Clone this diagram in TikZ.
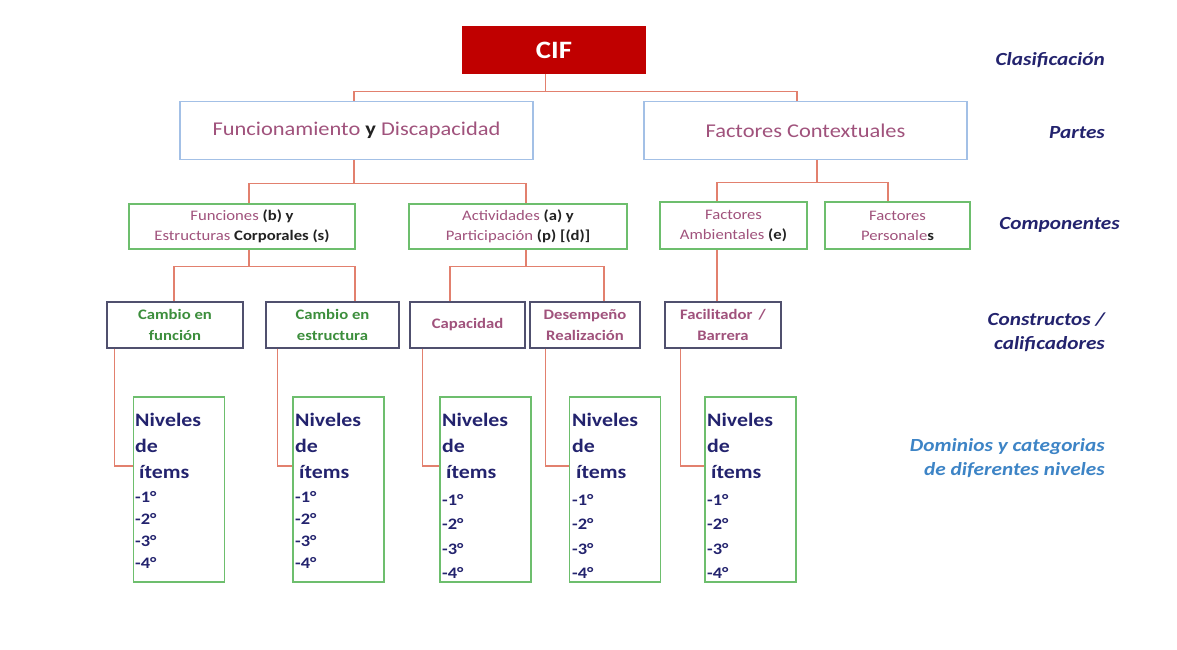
\documentclass[tikz,border=0pt]{standalone}
\usepackage{fontspec}
\setmainfont{Carlito}[FakeStretch=1.15]
\definecolor{cifred}{HTML}{C00000}
\definecolor{lineC}{HTML}{E2806E}
\definecolor{partB}{HTML}{A3C0E6}
\definecolor{compB}{HTML}{6DBE6D}
\definecolor{consB}{HTML}{50506E}
\definecolor{mauve}{HTML}{A0527C}
\definecolor{greenT}{HTML}{3C8E3C}
\definecolor{navy}{HTML}{23236E}
\definecolor{lblue}{HTML}{3D84C6}
\definecolor{darkT}{HTML}{222222}
\newcommand{\bk}[1]{\textcolor{darkT}{\textbf{#1}}}
\begin{document}
\begin{tikzpicture}[x=1pt,y=-1pt,
  conn/.style={draw=lineC, line width=1.4pt},
  box/.style={rectangle, inner sep=0pt, align=center, line width=1.4pt},
  cifbox/.style={box, fill=cifred, draw=cifred, text=white, font=\bfseries\fontsize{25}{30}\selectfont, minimum width=182pt, minimum height=46pt},
  partbox/.style={box, draw=partB, text=mauve, font=\fontsize{19.5}{24}\selectfont, minimum height=58pt},
  compbox/.style={box, draw=compB, text=mauve, font=\fontsize{14.5}{20}\selectfont},
  consbox/.style={box, draw=consB, font=\bfseries\fontsize{14.5}{21}\selectfont, minimum height=46pt},
  nivbox/.style={rectangle, draw=compB, line width=1.4pt, minimum width=91pt, minimum height=185pt, inner sep=0pt},
  niv/.style={text=navy, font=\bfseries\fontsize{19}{23}\selectfont, inner sep=0pt, anchor=base west},
  nivs/.style={niv, font=\bfseries\fontsize{16}{20}\selectfont},
  lab/.style={text=navy, font=\bfseries\itshape\fontsize{18.5}{23.5}\selectfont, inner sep=0pt, align=right}
]
\fill[white] (0,0) rectangle (1177,649);
\useasboundingbox (0,0) rectangle (1177,649);

% top
\node[cifbox] (cif) at (554,50) {CIF};
\node[partbox, minimum width=353pt] (fd) at (356.5,130.5) {Funcionamiento \bk{y} Discapacidad};
\node[partbox, minimum width=323pt] (fc) at (805.5,130.5) {Factores Contextuales};

% components
\node[compbox, minimum width=226pt, minimum height=45pt] (fun) at (242,226.5) {Funciones \bk{(b) y}\\Estructuras \bk{Corporales (s)}};
\node[compbox, minimum width=218pt, minimum height=45pt] (act) at (518,226.5) {Actividades \bk{(a) y}\\Participación \bk{(p) [(d)]}};
\node[compbox, minimum width=147pt, minimum height=47pt] (amb) at (733.5,225.5) {Factores\\Ambientales \bk{(e)}};
\node[compbox, minimum width=145pt, minimum height=47pt] (per) at (897.5,225.5) {Factores\\Personale\bk{s}};

% constructs
\node[consbox, text=greenT, minimum width=136pt] (cf) at (175,325) {Cambio en\\función};
\node[consbox, text=greenT, minimum width=133pt] (ce) at (332.5,325) {Cambio en\\estructura};
\node[consbox, text=mauve, minimum width=115pt] (cap) at (467.5,325) {Capacidad};
\node[consbox, text=mauve, minimum width=110pt] (des) at (585,325) {Desempeño\\Realización};
\node[consbox, text=mauve, minimum width=116pt] (fac) at (723,325) {Facilitador \,/\\Barrera};

% niveles boxes
\node[nivbox] (n1) at (178.7,489.5) {};
\node[nivbox] (n2) at (338.5,489.5) {};
\node[nivbox] (n3) at (485.4,489.5) {};
\node[nivbox] (n4) at (615.2,489.5) {};
\node[nivbox] (n5) at (750.4,489.5) {};

\foreach \b/\x/\sp/\st in {n1/135/22/502, n2/295/22/502, n3/442/24.5/505, n4/572/24.5/505, n5/707/24.5/505} {
  \node[niv] (\b-a) at (\x,426) {Niveles};
  \node[niv] (\b-b) at (\x,452) {de};
  \node[niv] (\b-c) at ({\x+4},478) {ítems};
  \foreach \k in {1,2,3,4} {
    \node[nivs] (\b-i\k) at (\x,{\st+(\k-1)*\sp}) {-\k°};
  }
}

% right labels
\node[lab, anchor=east] (l1) at (1105,60) {Clasificación};
\node[lab, anchor=east] (l2) at (1105,133) {Partes};
\node[lab, anchor=east] (l3) at (1120,225) {Componentes};
\node[lab, anchor=east] (l4) at (1105,332) {Constructos /\\calificadores};
\node[lab, anchor=east, text=lblue] (l5) at (1105,458) {Dominios y categorias\\de diferentes niveles};

% connectors
\draw[conn] ([xshift=-8.5pt]cif.south) -- ++(0,18) -| ([xshift=-2.5pt]fd.north);
\draw[conn] ([xshift=-8.5pt]cif.south) ++(0,18) -| ([xshift=-8.5pt]fc.north);

\draw[conn] ([xshift=-2.5pt]fd.south) -- ++(0,23) -| ([xshift=7pt]fun.north);
\draw[conn] ([xshift=-2.5pt]fd.south) ++(0,23) -| ([xshift=8pt]act.north);

\draw[conn] ([xshift=11.5pt]fc.south) -- ++(0,22) -| ([xshift=-16.5pt]amb.north);
\draw[conn] ([xshift=11.5pt]fc.south) ++(0,22) -| ([xshift=-9.5pt]per.north);

\draw[conn] ([xshift=7pt]fun.south) -- ++(0,17) -| ([xshift=-1pt]cf.north);
\draw[conn] ([xshift=7pt]fun.south) ++(0,17) -| ([xshift=22.5pt]ce.north);

\draw[conn] ([xshift=8pt]act.south) -- ++(0,17) -| ([xshift=-17.5pt]cap.north);
\draw[conn] ([xshift=8pt]act.south) ++(0,17) -| ([xshift=19pt]des.north);

\draw[conn] ([xshift=-16.5pt]amb.south) -- ([xshift=-6pt]fac.north);

\draw[conn] ([xshift=8pt]cf.south west) |- ([yshift=23.5pt]n1.west);
\draw[conn] ([xshift=12pt]ce.south west) |- ([yshift=23.5pt]n2.west);
\draw[conn] ([xshift=13pt]cap.south west) |- ([yshift=23.5pt]n3.west);
\draw[conn] ([xshift=16pt]des.south west) |- ([yshift=23.5pt]n4.west);
\draw[conn] ([xshift=16pt]fac.south west) |- ([yshift=23.5pt]n5.west);
\end{tikzpicture}
\end{document}
